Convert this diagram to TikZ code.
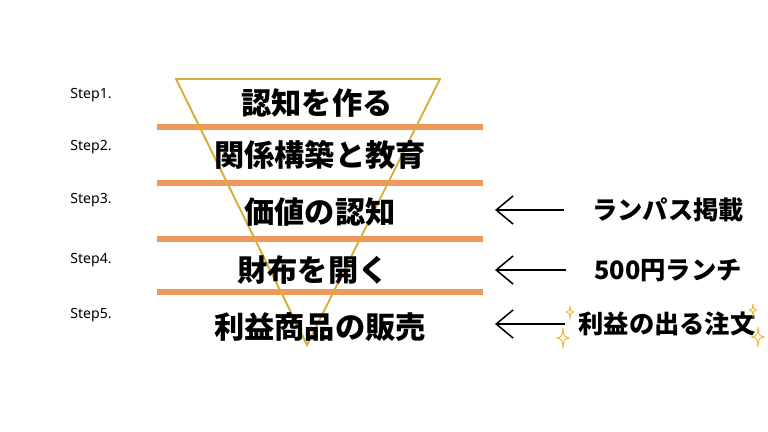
\documentclass[tikz,border=0pt]{standalone}
\usepackage{fontspec}
\usepackage{xcolor}
\usetikzlibrary{arrows.meta}
\newfontfamily\jp{Noto Sans CJK JP}
\newfontfamily\stepfont{Noto Sans}
\definecolor{barorange}{HTML}{F0975B}
\definecolor{trigold}{HTML}{D6AE3C}
\definecolor{sparkgold}{HTML}{F2B43C}

\begin{document}
\begin{tikzpicture}[x=0.025cm,y=-0.025cm,>={Straight Barb[length=12pt,width=20pt]},every node/.style={inner sep=0pt},
lvl/.style={font=\jp\bfseries\fontsize{21.5}{24}\selectfont},
stp/.style={font=\stepfont\fontsize{10}{12}\selectfont},
act/.style={font=\jp\bfseries\fontsize{18}{21}\selectfont},
bar/.style={draw=barorange,line width=3.6pt},
spark/.pic={\draw[sparkgold,line width=0.7pt](0,-1) .. controls (0.08,-0.15) .. (0.6,0) .. controls (0.08,0.15) .. (0,1) .. controls (-0.08,0.15) .. (-0.6,0) .. controls (-0.08,-0.15) .. cycle;}]
\useasboundingbox (0,0) rectangle (768,432);
% separators and funnel
\draw[bar](157,127)--(483,127);\draw[bar](157,183)--(483,183);
\draw[bar](157,239)--(483,239);\draw[bar](157,292)--(483,292);
\draw[trigold,line width=1.4pt,line join=miter](176,79)--(440,79)--(307,345)--cycle;
% steps
\node[stp](s1) at (91,95){Step1.};\node[stp](s2) at (91,147){Step2.};
\node[stp](s3) at (91,200){Step3.};\node[stp](s4) at (91,260){Step4.};
\node[stp](s5) at (91,315){Step5.};
\node[lvl](l1) at (317,103){認知を作る};
\node[lvl](l2) at (320,155){関係構築と教育};
\node[lvl](l3) at (320,212){価値の認知};
\node[lvl](l4) at (313,270){財布を開く};
\node[lvl](l5) at (320,327){利益商品の販売};
% actions
\node[act](r3) at (668,210){ランパス掲載};
\node[act](r4) at (668,270){500円ランチ};
\node[act](r5) at (667,324){利益の出る注文};
\coordinate(tip) at (495,0);
\draw[->,line width=1.1pt,shorten <=20pt](r3.west)--(tip|-r3.west);
\draw[->,line width=1.1pt,shorten <=20pt](r4.west)--(tip|-r4.west);
\draw[->,line width=1.1pt,shorten <=9pt](r5.west)--(tip|-r5.west);
\pic[scale=6] at (570,312){spark};\pic[scale=10] at (563,338){spark};
\pic[scale=6] at (753,310){spark};\pic[scale=10] at (758,337){spark};
\end{tikzpicture}
\end{document}
